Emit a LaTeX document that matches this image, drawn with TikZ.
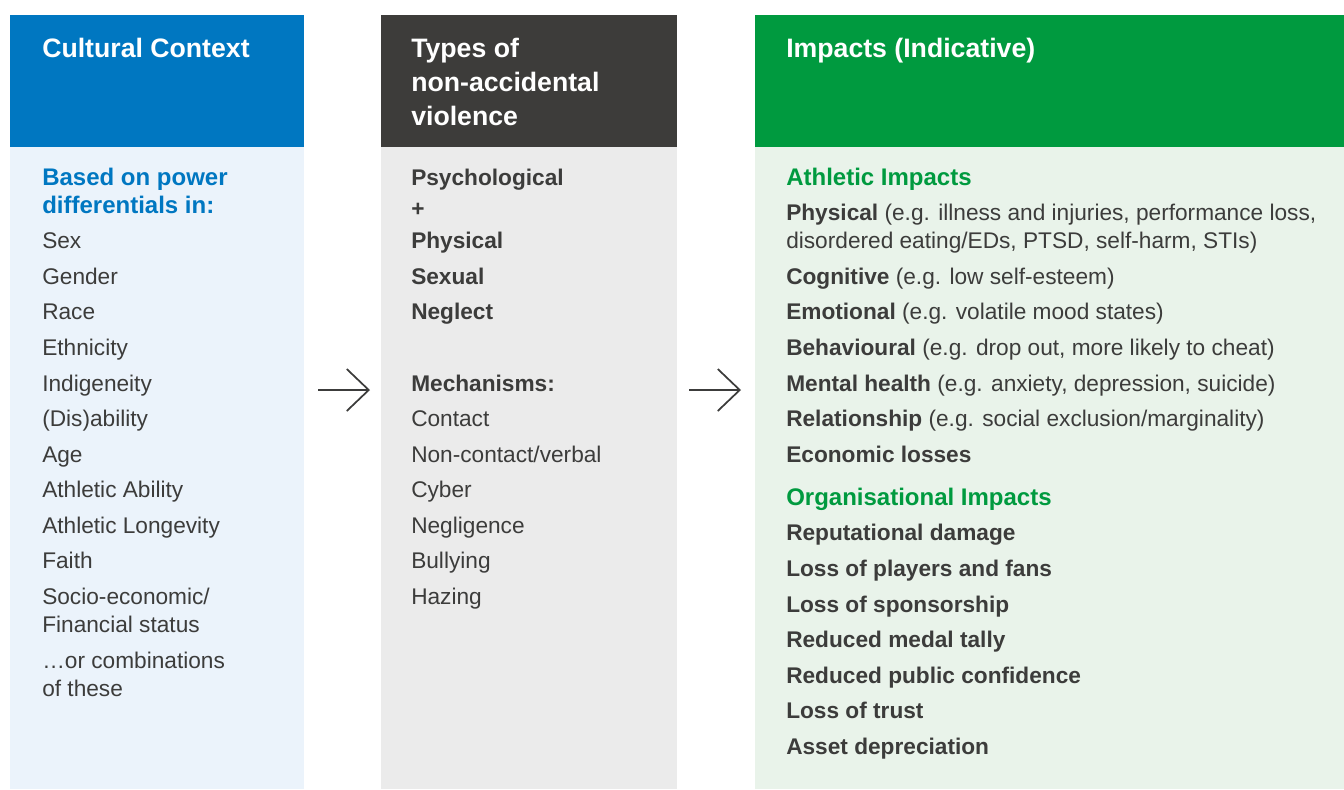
\documentclass[tikz,border=0pt]{standalone}
\usepackage{fontspec}
\setmainfont{Liberation Sans}
\usetikzlibrary{arrows.meta}
\definecolor{cblue}{HTML}{0077C1}
\definecolor{cbluelt}{HTML}{EBF3FB}
\definecolor{cdark}{HTML}{3D3C3A}
\definecolor{cgraylt}{HTML}{EBEBEB}
\definecolor{cgreen}{HTML}{009A3F}
\definecolor{cgreenlt}{HTML}{E9F3EA}
\definecolor{ctext}{HTML}{3C3C3B}
\tikzset{
  hdr/.style={anchor=base west, inner sep=0pt, text=white, font=\fontsize{20}{24}\selectfont\bfseries},
  txt/.style={anchor=base west, inner sep=0pt, text=ctext, font=\fontsize{17}{21}\selectfont},
  btxt/.style={txt, font=\fontsize{17}{21}\selectfont\bfseries},
  bluesub/.style={btxt, text=cblue, font=\fontsize{18}{21}\selectfont\bfseries},
  greensub/.style={btxt, text=cgreen, font=\fontsize{18}{21}\selectfont\bfseries},
  flow/.style={-{Straight Barb[length=16.5pt,width=31.5pt,line width=1.3pt]}, line width=1.3pt, draw=ctext}
}
\begin{document}
\begin{tikzpicture}[x=0.75pt,y=-0.75pt]
\useasboundingbox (0,0) rectangle (1344,789);
% columns
\fill[cblue] (10,15) rectangle (304,147);
\fill[cbluelt] (10,147) rectangle (304,789);
\fill[cdark] (381,15) rectangle (677,147);
\fill[cgraylt] (381,147) rectangle (677,789);
\fill[cgreen] (755,15) rectangle (1344,147);
\fill[cgreenlt] (755,147) rectangle (1344,789);
% headers
\node[hdr] (h1) at (42,57) {Cultural Context};
\node[hdr] (h2a) at (411,57) {Types of};
\node[hdr] (h2b) at (411,91) {non-accidental};
\node[hdr] (h2c) at (411,125) {violence};
\node[hdr] (h3) at (786,57) {Impacts (Indicative)};
% column 1
\node[bluesub] (c1a) at (42,185) {Based on power};
\node[bluesub] (c1b) at (42,213) {differentials in:};
\node[txt] (c1c) at (42,248) {Sex};
\node[txt] (c1d) at (42,284) {Gender};
\node[txt] (c1e) at (42,319) {Race};
\node[txt] (c1f) at (42,355) {Ethnicity};
\node[txt] (c1g) at (42,391) {Indigeneity};
\node[txt] (c1h) at (42,426) {(Dis)ability};
\node[txt] (c1i) at (42,462) {Age};
\node[txt] (c1j) at (42,497) {Athletic Ability};
\node[txt] (c1k) at (42,533) {Athletic Longevity};
\node[txt] (c1l) at (42,568) {Faith};
\node[txt] (c1m) at (42,604) {Socio-economic/};
\node[txt] (c1n) at (42,632) {Financial status};
\node[txt] (c1o) at (42,668) {…or combinations};
\node[txt] (c1p) at (42,696) {of these};
% column 2
\node[btxt] (c2a) at (411,185) {Psychological};
\node[btxt] (c2b) at (411,216) {+};
\node[btxt] (c2c) at (411,248) {Physical};
\node[btxt] (c2d) at (411,284) {Sexual};
\node[btxt] (c2e) at (411,319) {Neglect};
\node[btxt] (c2f) at (411,391) {Mechanisms:};
\node[txt] (c2g) at (411,426) {Contact};
\node[txt] (c2h) at (411,462) {Non-contact/verbal};
\node[txt] (c2i) at (411,497) {Cyber};
\node[txt] (c2j) at (411,533) {Negligence};
\node[txt] (c2k) at (411,568) {Bullying};
\node[txt] (c2l) at (411,604) {Hazing};
% column 3
\node[greensub] (c3a) at (786,185) {Athletic Impacts};
\node[txt] (c3b) at (786,220) {\textbf{Physical} (e.g. illness and injuries, performance loss,};
\node[txt] (c3c) at (786,248) {disordered eating/EDs, PTSD, self-harm, STIs)};
\node[txt] (c3d) at (786,284) {\textbf{Cognitive} (e.g. low self-esteem)};
\node[txt] (c3e) at (786,319) {\textbf{Emotional} (e.g. volatile mood states)};
\node[txt] (c3f) at (786,355) {\textbf{Behavioural} (e.g. drop out, more likely to cheat)};
\node[txt] (c3g) at (786,391) {\textbf{Mental health} (e.g. anxiety, depression, suicide)};
\node[txt] (c3h) at (786,426) {\textbf{Relationship} (e.g. social exclusion/marginality)};
\node[btxt] (c3i) at (786,462) {Economic losses};
\node[greensub] (c3j) at (786,505) {Organisational Impacts};
\node[btxt] (c3k) at (786,540) {Reputational damage};
\node[btxt] (c3l) at (786,576) {Loss of players and fans};
\node[btxt] (c3m) at (786,612) {Loss of sponsorship};
\node[btxt] (c3n) at (786,647) {Reduced medal tally};
\node[btxt] (c3o) at (786,683) {Reduced public confidence};
\node[btxt] (c3p) at (786,718) {Loss of trust};
\node[btxt] (c3q) at (786,754) {Asset depreciation};
% arrows
\coordinate (a1s) at (318,390);
\coordinate (a1e) at (370,390);
\coordinate (a2s) at (689,390);
\coordinate (a2e) at (741,390);
\draw[flow] (a1s) -- (a1e);
\draw[flow] (a2s) -- (a2e);
\end{tikzpicture}
\end{document}
